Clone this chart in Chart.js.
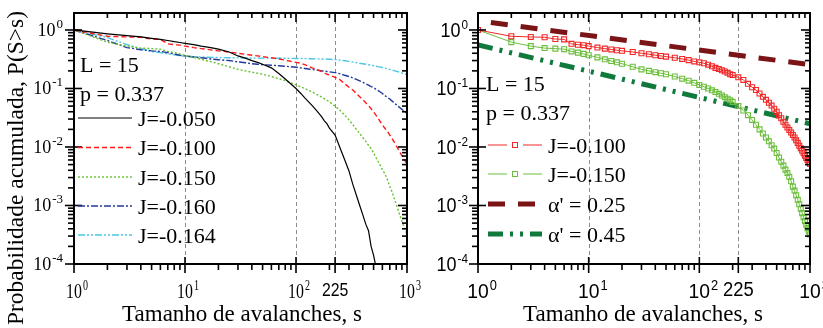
<!DOCTYPE html>
<html>
<head>
<meta charset="utf-8">
<script src="https://cdn.jsdelivr.net/npm/chart.js@4.4.1/dist/chart.umd.min.js"></script>
<style>
  html, body { margin: 0; padding: 0; background: #fff; }
  #wrap { position: relative; width: 823px; height: 328px; overflow: hidden; }
  canvas { position: absolute; top: 0; }
  #left { left: 0; }
  #right { left: 410px; }
</style>
</head>
<body>
<div id="wrap">
  <canvas id="left" width="440" height="328"></canvas>
  <canvas id="right" width="413" height="328"></canvas>
</div>
<script>
// avalanche sizes s
const sizes = [1, 2, 3, 4, 5, 6, 7, 8, 9, 10,
  12, 14, 16, 18, 20, 25, 30, 35, 40, 45,
  50, 60, 70, 80, 90, 100, 110, 120, 130, 140,
  150, 160, 170, 180, 190, 200, 225, 250, 275, 300,
  325, 350, 375, 400, 425, 450, 475, 500, 525, 550,
  575, 600, 625, 650, 675, 700, 725, 750, 775, 800,
  825, 850, 875, 900, 925, 950, 975, 1000];

// P(S>s) for each J
const pJ050 = [1.0, 0.86, 0.80, 0.76, 0.72, 0.69, 0.66, 0.63, 0.61, 0.59,
  0.56, 0.53, 0.51, 0.49, 0.47, 0.42, 0.36, 0.33, 0.30, 0.28,
  0.26, 0.225, 0.18, 0.145, 0.119, 0.10, 0.083, 0.069, 0.059, 0.051,
  0.044, 0.038, 0.033, 0.028, 0.025, 0.021, 0.016, 0.0095, 0.006, 0.0039,
  0.0023, 0.0015, 0.001, 0.00069, 0.00048, 0.00037, 0.0002, 0.00014, 0.00009, 0.00005,
  null, null, null, null, null, null, null, null, null, null,
  null, null, null, null, null, null, null, null];
const pJ100 = [1.0, 0.78, 0.76, 0.75, 0.70, 0.69, 0.58, 0.56, 0.55, 0.53,
  0.50, 0.48, 0.465, 0.45, 0.44, 0.42, 0.40, 0.385, 0.37, 0.36,
  0.35, 0.335, 0.32, 0.305, 0.29, 0.28, 0.27, 0.255, 0.24, 0.225,
  0.215, 0.205, 0.195, 0.185, 0.175, 0.17, 0.155, 0.14, 0.12, 0.105,
  0.094, 0.082, 0.072, 0.064, 0.057, 0.051, 0.045, 0.040, 0.035, 0.031,
  0.027, 0.024, 0.0215, 0.0195, 0.0177, 0.016, 0.0145, 0.013, 0.0117, 0.0105,
  0.0095, 0.0086, 0.0078, 0.0071, 0.0065, 0.006, 0.0055, 0.0051];
const pJ150 = [1.0, 0.62, 0.53, 0.49, 0.48, 0.47, 0.43, 0.41, 0.39, 0.37,
  0.34, 0.315, 0.295, 0.28, 0.265, 0.235, 0.212, 0.20, 0.19, 0.182,
  0.175, 0.16, 0.147, 0.136, 0.125, 0.115, 0.107, 0.10, 0.093, 0.087,
  0.081, 0.076, 0.071, 0.067, 0.063, 0.059, 0.05, 0.042, 0.035, 0.029,
  0.024, 0.020, 0.017, 0.0145, 0.0125, 0.0107, 0.0094, 0.0079, 0.0066, 0.0056,
  0.0048, 0.0041, 0.0036, 0.0031, 0.0026, 0.0021, 0.0018, 0.0015, 0.00125, 0.00105,
  0.00088, 0.00074, 0.00063, 0.00054, 0.00047, 0.00041, 0.00036, 0.00032];
const pJ160 = [1.0, 0.66, 0.50, 0.46, 0.44, 0.43, 0.41, 0.39, 0.37, 0.36,
  0.345, 0.335, 0.325, 0.315, 0.31, 0.30, 0.285, 0.275, 0.265, 0.26,
  0.255, 0.25, 0.245, 0.24, 0.235, 0.23, 0.225, 0.22, 0.215, 0.21,
  0.207, 0.204, 0.2, 0.198, 0.195, 0.192, 0.187, 0.178, 0.168, 0.16,
  0.152, 0.143, 0.135, 0.127, 0.12, 0.114, 0.108, 0.103, 0.097, 0.092,
  0.087, 0.082, 0.077, 0.073, 0.069, 0.066, 0.062, 0.059, 0.056, 0.053,
  0.05, 0.048, 0.046, 0.044, 0.042, 0.041, 0.039, 0.038];
const pJ164 = [1.0, 0.74, 0.56, 0.48, 0.43, 0.41, 0.39, 0.375, 0.365, 0.355,
  0.35, 0.345, 0.342, 0.34, 0.338, 0.335, 0.333, 0.332, 0.331, 0.33,
  0.33, 0.33, 0.329, 0.328, 0.327, 0.326, 0.325, 0.324, 0.323, 0.322,
  0.321, 0.32, 0.319, 0.318, 0.316, 0.315, 0.312, 0.305, 0.298, 0.29,
  0.283, 0.277, 0.27, 0.265, 0.26, 0.255, 0.25, 0.245, 0.24, 0.236,
  0.232, 0.228, 0.224, 0.22, 0.216, 0.212, 0.208, 0.204, 0.2, 0.197,
  0.194, 0.19, 0.187, 0.184, 0.181, 0.178, 0.175, 0.172];

// power-law guides (straight on log-log)
const powerSizes = [1, 1000];
const alpha025 = [1.43, 0.255];
const alpha045 = [0.555, 0.025];

// axes
const xDecades = [1, 10, 100, 1000];
const xExps = ["0", "1", "2", "3"];
const yDecades = [1, 0.1, 0.01, 0.001, 0.0001];
const yExps = ["0", "-1", "-2", "-3", "-4"];
const specialTick = 225;
const gridMarks = [10, 100, 225];

const SERIF = '"Liberation Serif", "Times New Roman", serif';
const SANS = '"Liberation Sans", Arial, sans-serif';

function pts(xv, yv) {
  return xv.map((x, i) => ({ x: x, y: yv[i] }));
}

function powLabel(ctx, x, y, exp, f, mode) {
  ctx.save();
  ctx.font = f.base;
  const w1 = ctx.measureText("10").width * f.sx;
  ctx.font = f.sup;
  const w2 = ctx.measureText(exp).width * f.sx;
  const x0 = mode === "center" ? x - w1 / 2 : x - w1 - w2 - 1;
  ctx.translate(x0, y);
  ctx.scale(f.sx, 1);
  ctx.textAlign = "left";
  ctx.textBaseline = "alphabetic";
  ctx.fillStyle = "#000";
  ctx.font = f.base;
  ctx.fillText("10", 0, 0);
  ctx.font = f.sup;
  ctx.fillText(exp, (w1 + 1) / f.sx, -f.rise);
  ctx.restore();
}

function panelPlugin(o) {
  return {
    id: "panel",
    beforeDatasetsDraw(chart) {
      const ctx = chart.ctx, a = chart.chartArea, xs = chart.scales.x;
      ctx.save();
      ctx.strokeStyle = "#8c8c8c";
      ctx.lineWidth = 1;
      ctx.setLineDash([4, 3]);
      gridMarks.forEach((v) => {
        const X = Math.round(xs.getPixelForValue(v)) + 0.5;
        ctx.beginPath();
        ctx.moveTo(X, a.top);
        ctx.lineTo(X, a.bottom);
        ctx.stroke();
      });
      ctx.restore();
    },
    afterDatasetsDraw(chart) {
      const ctx = chart.ctx, a = chart.chartArea;
      const xs = chart.scales.x, ys = chart.scales.y;
      ctx.save();
      ctx.strokeStyle = "#000";
      ctx.lineWidth = 2;
      ctx.strokeRect(a.left, a.top, a.right - a.left, a.bottom - a.top);

      // ticks
      ctx.lineWidth = 1.6;
      const line = (x1, y1, x2, y2) => {
        ctx.beginPath();
        ctx.moveTo(x1, y1);
        ctx.lineTo(x2, y2);
        ctx.stroke();
      };
      for (let n = 0; n <= 2; n++) {
        for (let m = 1; m <= 9; m++) {
          const X = xs.getPixelForValue(m * Math.pow(10, n));
          if (m === 1) {
            line(X, a.bottom - 7, X, a.bottom + 9);
            line(X, a.top, X, a.top + 9);
          } else {
            line(X, a.bottom, X, a.bottom + 6);
            line(X, a.top, X, a.top + 5);
          }
        }
      }
      [1000, specialTick].forEach((v) => {
        const X = xs.getPixelForValue(v);
        line(X, a.bottom - 7, X, a.bottom + 9);
        line(X, a.top, X, a.top + 9);
      });
      for (let n = -4; n <= 0; n++) {
        for (let m = 1; m <= 9; m++) {
          const v = m * Math.pow(10, n);
          if (v > ys.max) continue;
          const Y = ys.getPixelForValue(v);
          if (m === 1) {
            line(a.left - 9, Y, a.left + 8, Y);
            line(a.right - 9, Y, a.right, Y);
          } else {
            line(a.left - 6, Y, a.left, Y);
            line(a.right - 5, Y, a.right, Y);
          }
        }
      }

      // tick labels
      xDecades.forEach((v, i) => {
        powLabel(ctx, xs.getPixelForValue(v), o.xLabelY, xExps[i], o.xFont, "center");
      });
      ctx.save();
      ctx.translate(xs.getPixelForValue(specialTick), o.xLabelY - 2);
      ctx.scale(o.f225.sx, 1);
      ctx.font = o.f225.font;
      ctx.textAlign = "center";
      ctx.fillStyle = "#000";
      ctx.fillText(String(specialTick), 0, 0);
      ctx.restore();
      yDecades.forEach((v, i) => {
        powLabel(ctx, o.yLabelX, ys.getPixelForValue(v) + o.yFont.half, yExps[i], o.yFont, "right");
      });

      // axis titles
      ctx.fillStyle = "#000";
      ctx.font = "23px " + SERIF;
      ctx.textAlign = "center";
      ctx.textBaseline = "alphabetic";
      ctx.fillText("Tamanho de avalanches, s", o.xTitleX, 321);
      if (o.yTitle) {
        ctx.save();
        ctx.translate(17, 168);
        ctx.rotate(-Math.PI / 2);
        ctx.font = "23.5px " + SERIF;
        ctx.textBaseline = "middle";
        ctx.fillText(o.yTitle, 0, 0);
        ctx.restore();
      }

      // annotations
      ctx.font = "22px " + SERIF;
      ctx.textAlign = "left";
      ctx.fillText("L = 15", o.noteX, o.noteY[0]);
      ctx.fillText("p = 0.337", o.noteX, o.noteY[1]);

      // legend
      o.legend.forEach((it, i) => {
        const ds = chart.data.datasets[it.ds];
        const y = o.legendY[i];
        const x1 = o.legendX[0], x2 = o.legendX[1];
        ctx.save();
        ctx.strokeStyle = ds.borderColor;
        ctx.lineWidth = ds.borderWidth;
        ctx.setLineDash(ds.borderDash || []);
        if (ds.pointRadius > 0) {
          const cx = (x1 + x2) / 2;
          line(x1, y, cx - 8, y);
          line(cx + 8, y, x2, y);
          ctx.setLineDash([]);
          ctx.lineWidth = 1;
          ctx.strokeRect(cx - 2.5, y - 2.5, 5, 5);
        } else {
          line(x1, y, x2, y);
        }
        ctx.restore();
        ctx.font = "22px " + SERIF;
        ctx.fillStyle = "#000";
        ctx.fillText(it.text, o.legendX[2], y + 7.5);
      });
      ctx.restore();
    },
  };
}

function axes() {
  return {
    x: { type: "logarithmic", min: 1, max: 1000, display: false, bounds: "data" },
    y: { type: "logarithmic", min: 0.0001, max: 1.95, display: false, bounds: "data" },
  };
}

function lineDs(label, yv, color, width, dash) {
  return {
    label: label,
    data: pts(sizes, yv),
    borderColor: color,
    borderWidth: width,
    borderDash: dash,
    pointRadius: 0,
    fill: false,
    spanGaps: false,
  };
}

function markDs(label, yv, color) {
  return {
    label: label,
    data: pts(sizes, yv),
    borderColor: color,
    borderWidth: 1,
    pointStyle: "rect",
    pointRadius: 3.5,
    pointBorderWidth: 1.1,
    pointBackgroundColor: "rgba(255,255,255,0)",
    pointBorderColor: color,
  };
}

new Chart(document.getElementById("left"), {
  type: "line",
  data: {
    datasets: [
      lineDs("J=-0.050", pJ050, "#000000", 1.2, []),
      lineDs("J=-0.100", pJ100, "#ff1a1a", 1.4, [5, 3]),
      lineDs("J=-0.150", pJ150, "#66c22e", 1.4, [2, 2]),
      lineDs("J=-0.160", pJ160, "#23399c", 1.4, [7, 2, 2, 2]),
      lineDs("J=-0.164", pJ164, "#4cc6e2", 1.4, [7, 2, 2, 2, 2, 2]),
    ],
  },
  options: {
    responsive: false,
    animation: false,
    devicePixelRatio: 1,
    layout: { padding: { left: 74, right: 33, top: 13, bottom: 64 } },
    scales: axes(),
    plugins: { legend: { display: false }, tooltip: { enabled: false } },
  },
  plugins: [panelPlugin({
    xLabelY: 298,
    xFont: { base: "22px " + SERIF, sup: "14px " + SERIF, sx: 0.72, rise: 8 },
    f225: { font: "18px " + SANS, sx: 0.88 },
    yFont: { base: "18px " + SERIF, sup: "13px " + SERIF, sx: 1, rise: 8, half: 6 },
    yLabelX: 63,
    xTitleX: 242,
    yTitle: "Probabilidade acumulada, P(S>s)",
    noteX: 80,
    noteY: [72, 101],
    legendX: [78, 132, 138],
    legendY: [118, 147.5, 177, 206, 235],
    legend: [
      { ds: 0, text: "J=-0.050" },
      { ds: 1, text: "J=-0.100" },
      { ds: 2, text: "J=-0.150" },
      { ds: 3, text: "J=-0.160" },
      { ds: 4, text: "J=-0.164" },
    ],
  })],
});

new Chart(document.getElementById("right"), {
  type: "line",
  data: {
    datasets: [
      markDs("J=-0.100", pJ100, "#f02828"),
      markDs("J=-0.150", pJ150, "#6cbf3c"),
      {
        label: "α' = 0.25",
        data: pts(powerSizes, alpha025),
        borderColor: "#7b1416",
        borderWidth: 5,
        borderDash: [17, 13],
        borderDashOffset: 17,
        pointRadius: 0,
      },
      {
        label: "α' = 0.45",
        data: pts(powerSizes, alpha045),
        borderColor: "#0f7a3c",
        borderWidth: 5,
        borderDash: [15, 7, 3, 7, 3, 7],
        pointRadius: 0,
      },
    ],
  },
  options: {
    responsive: false,
    animation: false,
    devicePixelRatio: 1,
    layout: { padding: { left: 68, right: 13, top: 13, bottom: 64 } },
    scales: axes(),
    plugins: { legend: { display: false }, tooltip: { enabled: false } },
  },
  plugins: [panelPlugin({
    xLabelY: 298,
    xFont: { base: "21px " + SANS, sup: "14px " + SANS, sx: 0.92, rise: 8 },
    f225: { font: "20px " + SANS, sx: 0.92 },
    yFont: { base: "20px " + SANS, sup: "13px " + SANS, sx: 0.9, rise: 8, half: 7 },
    yLabelX: 58,
    xTitleX: 233,
    yTitle: null,
    noteX: 76,
    noteY: [91, 120],
    legendX: [78, 132, 138],
    legendY: [145, 174, 204, 234],
    legend: [
      { ds: 0, text: "J=-0.100" },
      { ds: 1, text: "J=-0.150" },
      { ds: 2, text: "α' = 0.25" },
      { ds: 3, text: "α' = 0.45" },
    ],
  })],
});
</script>
</body>
</html>
